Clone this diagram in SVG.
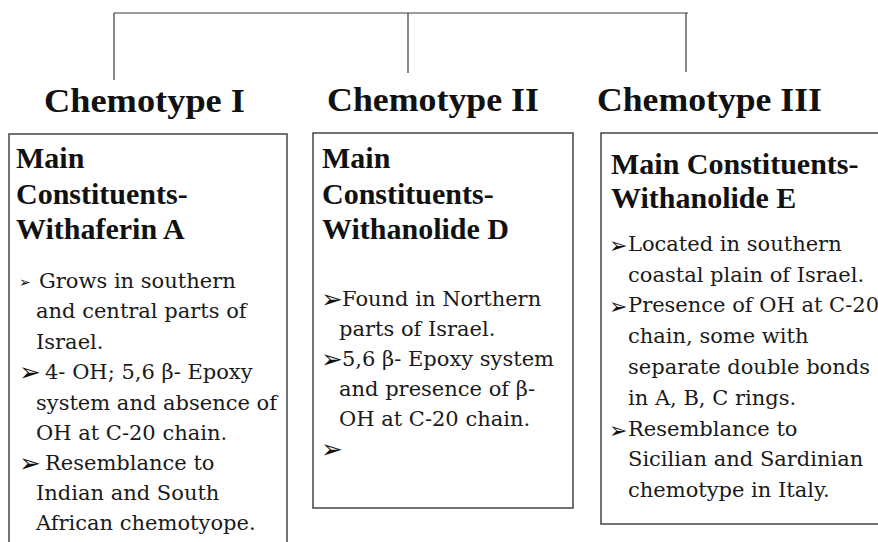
<svg xmlns="http://www.w3.org/2000/svg" width="878" height="542" viewBox="0 0 878 542">
<style>
.bg{fill:#ffffff}
.box{fill:#ffffff;stroke:#444444;stroke-width:1.5}
.conn{fill:none;stroke:#3a3a3a;stroke-width:1.2}
.head{font-family:"Liberation Serif",serif;font-weight:bold;font-size:34px;fill:#111111}
.title{font-family:"Liberation Serif",serif;font-weight:bold;font-size:30px;fill:#111111}
.body{font-family:"DejaVu Serif","Liberation Serif",serif;font-size:21px;fill:#1a1a1a}
.bul{font-family:"DejaVu Sans",sans-serif;font-size:26px;fill:#111111}
.bul3{font-family:"DejaVu Sans",sans-serif;font-size:22px;fill:#111111}
.sbul{font-family:"DejaVu Sans",sans-serif;font-size:14px;fill:#111111}
</style>
<rect class="bg" x="0" y="0" width="878" height="542"/>
<g id="connectors">
<path class="conn" d="M114,13 H688"/>
<path class="conn" d="M114,13 V80"/>
<path class="conn" d="M408,13 V73"/>
<path class="conn" d="M686,13 V72"/>
</g>
<g id="chemotype1">
<text class="head" x="44" y="112" textLength="201" lengthAdjust="spacingAndGlyphs">Chemotype I</text>
<rect class="box" x="9" y="134" width="278" height="430"/>
<text class="title" x="16" y="168">Main</text>
<text class="title" x="16" y="204">Constituents-</text>
<text class="title" x="16" y="239">Withaferin A</text>
<text class="sbul" x="19" y="287">➢</text>
<text class="body" x="39" y="288">Grows in southern</text>
<text class="body" x="36" y="318">and central parts of</text>
<text class="body" x="36" y="349">Israel.</text>
<text class="bul" x="19" y="381">➢</text>
<text class="body" x="45" y="379">4- OH; 5,6 β- Epoxy</text>
<text class="body" x="36" y="410">system and absence of</text>
<text class="body" x="36" y="440">OH at C-20 chain.</text>
<text class="bul" x="19" y="472">➢</text>
<text class="body" x="45" y="470">Resemblance to</text>
<text class="body" x="36" y="500">Indian and South</text>
<text class="body" x="36" y="530">African chemotyope.</text>
</g>
<g id="chemotype2">
<text class="head" x="327" y="111" textLength="212" lengthAdjust="spacingAndGlyphs">Chemotype II</text>
<rect class="box" x="313" y="133" width="260" height="375"/>
<text class="title" x="322" y="168">Main</text>
<text class="title" x="322" y="204">Constituents-</text>
<text class="title" x="322" y="239">Withanolide D</text>
<text class="bul" x="321" y="308">➢</text>
<text class="body" x="342" y="306">Found in Northern</text>
<text class="body" x="339" y="336">parts of Israel.</text>
<text class="bul" x="321" y="368">➢</text>
<text class="body" x="342" y="366">5,6 β- Epoxy system</text>
<text class="body" x="339" y="396">and presence of β-</text>
<text class="body" x="339" y="426">OH at C-20 chain.</text>
<text class="bul" x="321" y="458">➢</text>
</g>
<g id="chemotype3">
<text class="head" x="597" y="111" textLength="225" lengthAdjust="spacingAndGlyphs">Chemotype III</text>
<rect class="box" x="601" y="133" width="290" height="391"/>
<text class="title" x="611" y="174">Main Constituents-</text>
<text class="title" x="611" y="208">Withanolide E</text>
<text class="bul3" x="609" y="253">➢</text>
<text class="body" x="628" y="251">Located in southern</text>
<text class="body" x="628" y="282">coastal plain of Israel.</text>
<text class="bul3" x="609" y="314">➢</text>
<text class="body" x="628" y="312">Presence of OH at C-20</text>
<text class="body" x="628" y="343">chain, some with</text>
<text class="body" x="628" y="374">separate double bonds</text>
<text class="body" x="628" y="405">in A, B, C rings.</text>
<text class="bul3" x="609" y="438">➢</text>
<text class="body" x="628" y="436">Resemblance to</text>
<text class="body" x="628" y="466">Sicilian and Sardinian</text>
<text class="body" x="628" y="497">chemotype in Italy.</text>
</g>
</svg>
